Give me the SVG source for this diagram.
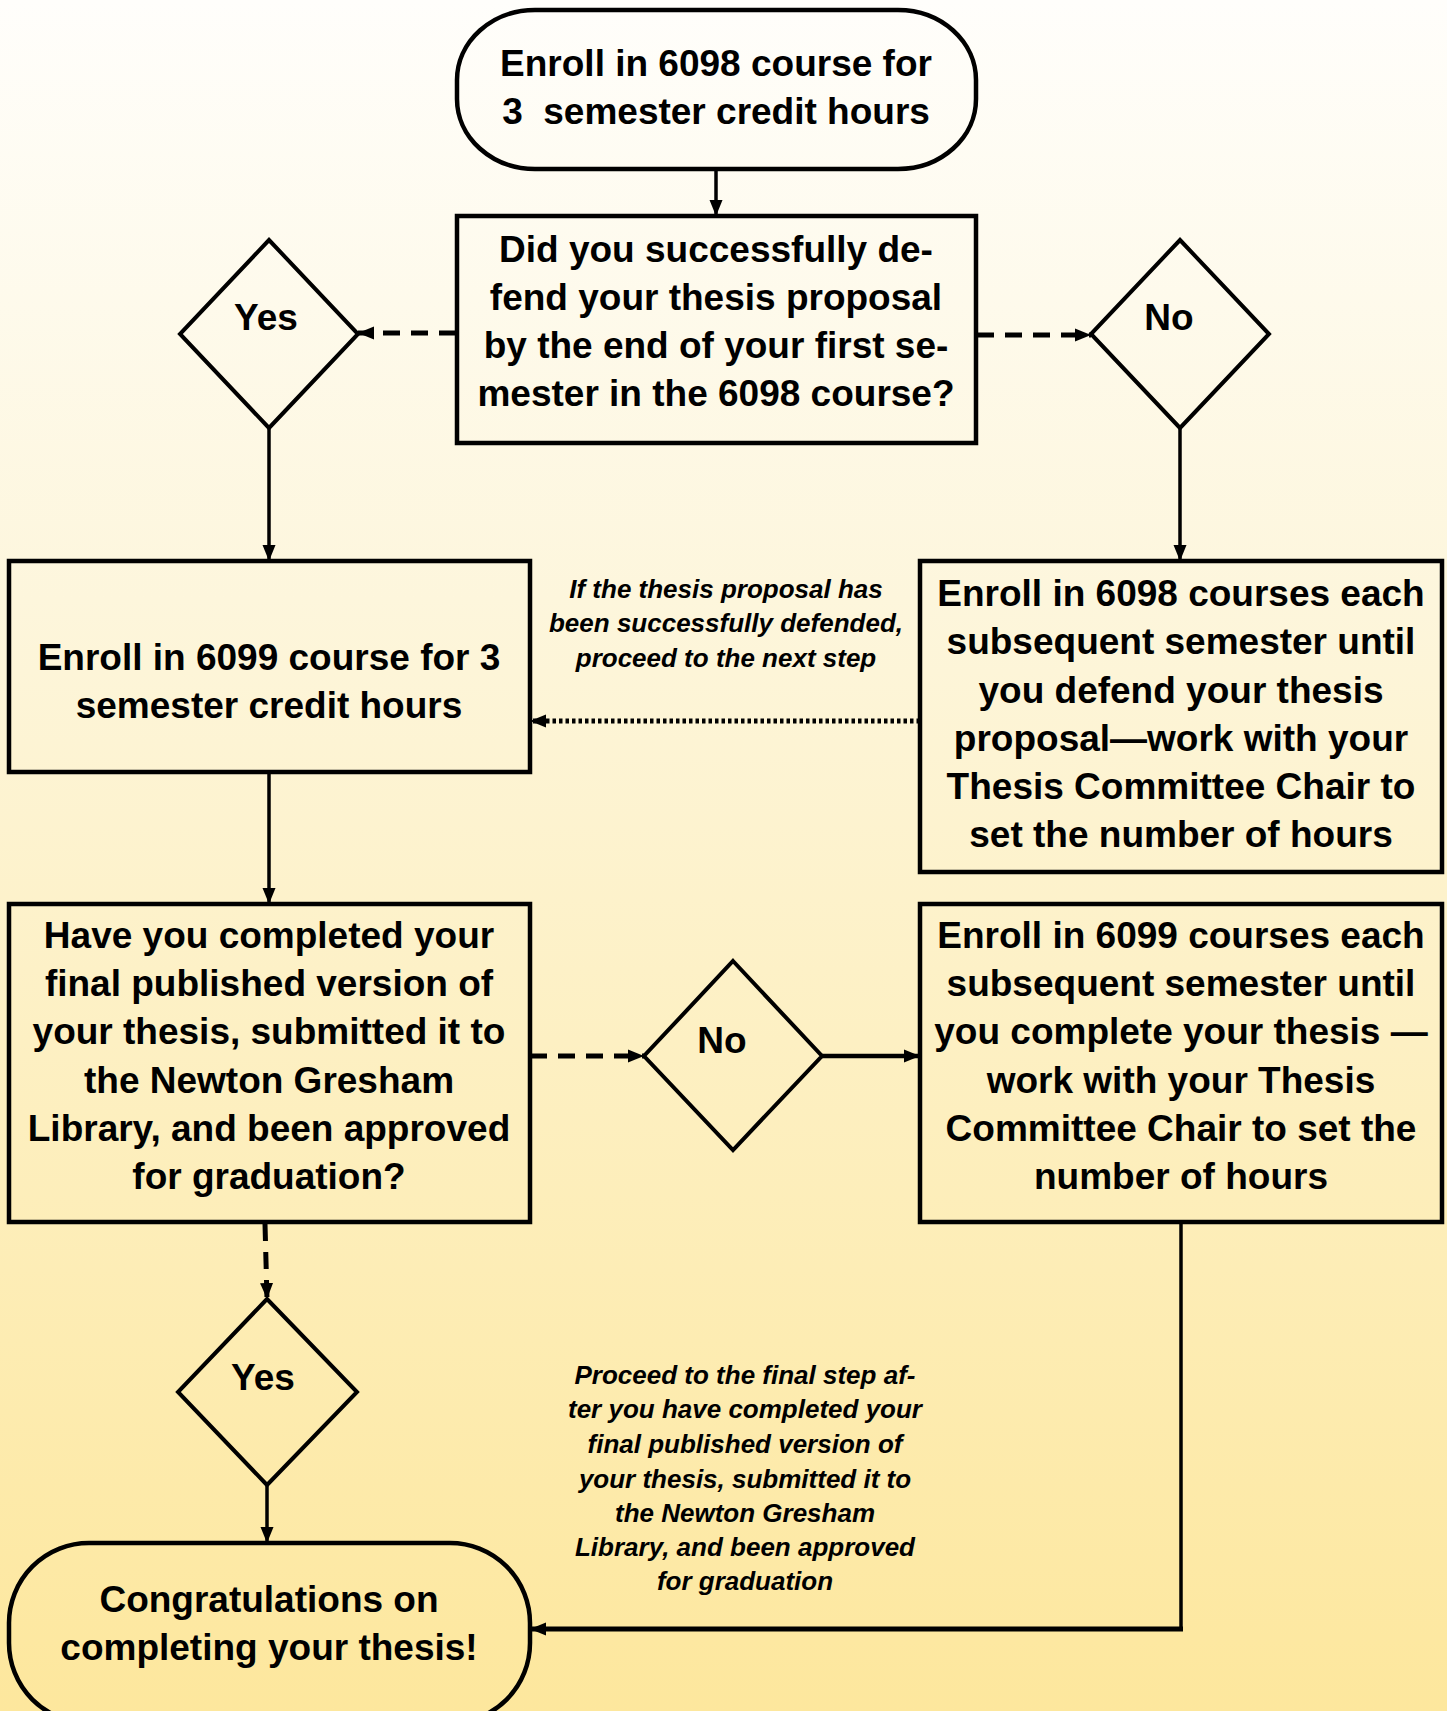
<svg xmlns="http://www.w3.org/2000/svg" width="1447" height="1711" viewBox="0 0 1447 1711">
<defs>
<linearGradient id="bg" x1="0" y1="0" x2="0" y2="1">
<stop offset="0" stop-color="#fffefb"/>
<stop offset="0.35" stop-color="#fdf6dc"/>
<stop offset="1" stop-color="#fde79d"/>
</linearGradient>
<marker id="ah" markerUnits="userSpaceOnUse" markerWidth="18" markerHeight="16" refX="16" refY="8" orient="auto">
<path d="M0,1.5 L16,8 L0,14.5 Z" fill="#000"/>
</marker>
<style>
.box{fill:none;stroke:#000;stroke-width:4.5}
.dia{fill:none;stroke:#000;stroke-width:4}
.t{font-family:"Liberation Sans",Arial,sans-serif;font-weight:bold;font-size:37px;fill:#000;text-anchor:middle}
.n{font-family:"Liberation Sans",Arial,sans-serif;font-style:italic;font-weight:bold;font-size:26px;fill:#000;text-anchor:middle}
.c{fill:none;stroke:#000;stroke-width:3.5}
.dash{stroke-dasharray:17 11;stroke-width:5}
.dot{stroke-dasharray:3.5 3;stroke-width:5}
</style>
</defs>
<rect x="0" y="0" width="1447" height="1711" fill="url(#bg)"/>

<g id="connectors">
<path class="c" d="M716,169 V216" marker-end="url(#ah)"/>
<path class="c dash" d="M456,333 H358" marker-end="url(#ah)"/>
<path class="c dash" d="M977,335 H1091" marker-end="url(#ah)"/>
<path class="c" d="M269,428 V561" marker-end="url(#ah)"/>
<path class="c" d="M1180,428 V561" marker-end="url(#ah)"/>
<path class="c dot" d="M920,721 H530" marker-end="url(#ah)"/>
<path class="c" d="M269,772 V904" marker-end="url(#ah)"/>
<path class="c dash" d="M530,1056 H644" marker-end="url(#ah)"/>
<path class="c" style="stroke-width:4.5" d="M822,1056 H920" marker-end="url(#ah)"/>
<path class="c dash" d="M265,1224 L267,1299" marker-end="url(#ah)"/>
<path class="c" d="M267,1485 V1543" marker-end="url(#ah)"/>
<path class="c" d="M1181,1222 V1629" />
<path class="c" style="stroke-width:5" d="M1183,1629 H530" marker-end="url(#ah)"/>
</g>

<g id="start">
<rect class="box" x="457" y="10" width="519" height="159" rx="78" ry="70"/>
<text class="t" x="716" y="76">Enroll in 6098 course for</text>
<text class="t" x="716" y="124">3&#160; semester credit hours</text>
</g>

<g id="q1">
<rect class="box" x="457" y="216" width="519" height="227"/>
<text class="t" x="716" y="262">Did you successfully de-</text>
<text class="t" x="716" y="310">fend your thesis proposal</text>
<text class="t" x="716" y="358">by the end of your first se-</text>
<text class="t" x="716" y="406">mester in the 6098 course?</text>
</g>

<g id="yes1">
<polygon class="dia" points="269,240 358,334 269,428 180,334"/>
<text class="t" x="266" y="330">Yes</text>
</g>

<g id="no1">
<polygon class="dia" points="1180,240 1269,334 1180,428 1091,334"/>
<text class="t" x="1169" y="330">No</text>
</g>

<g id="enroll6099">
<rect class="box" x="9" y="561" width="521" height="211"/>
<text class="t" x="269" y="670">Enroll in 6099 course for 3</text>
<text class="t" x="269" y="718">semester credit hours</text>
</g>

<g id="note1">
<text class="n" x="726" y="598">If the thesis proposal has</text>
<text class="n" x="726" y="632">been successfully defended,</text>
<text class="n" x="726" y="667">proceed to the next step</text>
</g>

<g id="enroll6098each">
<rect class="box" x="920" y="561" width="522" height="311"/>
<text class="t" x="1181" y="606">Enroll in 6098 courses each</text>
<text class="t" x="1181" y="654">subsequent semester until</text>
<text class="t" x="1181" y="703">you defend your thesis</text>
<text class="t" x="1181" y="751">proposal—work with your</text>
<text class="t" x="1181" y="799">Thesis Committee Chair to</text>
<text class="t" x="1181" y="847">set the number of hours</text>
</g>

<g id="q2">
<rect class="box" x="9" y="904" width="521" height="318"/>
<text class="t" x="269" y="948">Have you completed your</text>
<text class="t" x="269" y="996">final published version of</text>
<text class="t" x="269" y="1044">your thesis, submitted it to</text>
<text class="t" x="269" y="1093">the Newton Gresham</text>
<text class="t" x="269" y="1141">Library, and been approved</text>
<text class="t" x="269" y="1189">for graduation?</text>
</g>

<g id="no2">
<polygon class="dia" points="733,961 822,1056 733,1150 644,1056"/>
<text class="t" x="722" y="1053">No</text>
</g>

<g id="enroll6099each">
<rect class="box" x="920" y="904" width="522" height="318"/>
<text class="t" x="1181" y="948">Enroll in 6099 courses each</text>
<text class="t" x="1181" y="996">subsequent semester until</text>
<text class="t" x="1181" y="1044">you complete your thesis —</text>
<text class="t" x="1181" y="1093">work with your Thesis</text>
<text class="t" x="1181" y="1141">Committee Chair to set the</text>
<text class="t" x="1181" y="1189">number of hours</text>
</g>

<g id="yes2">
<polygon class="dia" points="267,1299 357,1392 267,1485 178,1392"/>
<text class="t" x="263" y="1390">Yes</text>
</g>

<g id="note2">
<text class="n" x="745" y="1384">Proceed to the final step af-</text>
<text class="n" x="745" y="1418">ter you have completed your</text>
<text class="n" x="745" y="1453">final published version of</text>
<text class="n" x="745" y="1488">your thesis, submitted it to</text>
<text class="n" x="745" y="1522">the Newton Gresham</text>
<text class="n" x="745" y="1556">Library, and been approved</text>
<text class="n" x="745" y="1590">for graduation</text>
</g>

<g id="end">
<rect class="box" x="9" y="1543" width="521" height="180" rx="80" ry="80"/>
<text class="t" x="269" y="1612">Congratulations on</text>
<text class="t" x="269" y="1660">completing your thesis!</text>
</g>
</svg>
